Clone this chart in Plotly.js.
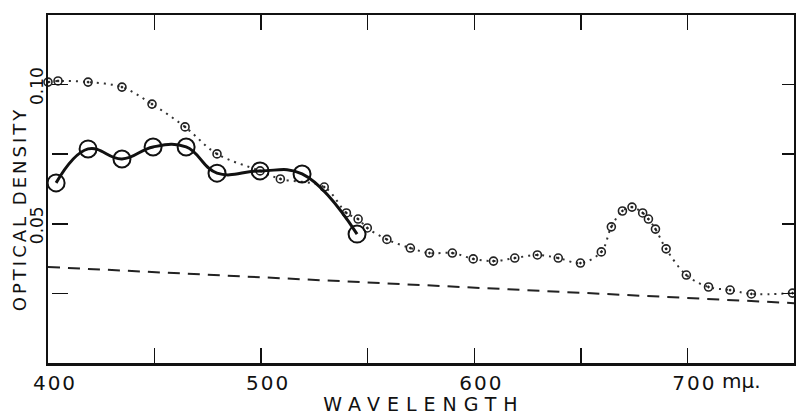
<!DOCTYPE html>
<html>
<head>
<meta charset="utf-8">
<script src="https://cdn.plot.ly/plotly-3.0.1.min.js"></script>
<style>
html,body{margin:0;padding:0;background:#fff;}
#chart{width:796px;height:415px;}
</style>
</head>
<body>
<div id="chart"></div>
<script>
// Dotted series (small circles)
const dotWavelength = [400, 404.7, 418.8, 434.7, 448.8, 464.3, 479.3, 499.5, 509, 529.6, 540, 545.5, 549.8, 559, 570, 579, 589.7, 599.5, 609, 619, 629.6, 639.4, 649.8, 659.6, 664.3, 669.5, 674, 679, 681.7, 685, 690, 699.5, 709.9, 720, 730, 749.3];
const dotDensity = [0.1009, 0.1013, 0.1009, 0.0991, 0.0930, 0.0848, 0.0751, 0.0690, 0.0661, 0.0632, 0.0539, 0.0517, 0.0485, 0.0444, 0.0413, 0.0395, 0.0395, 0.0374, 0.0366, 0.0377, 0.0388, 0.0377, 0.0359, 0.0399, 0.0489, 0.0546, 0.0560, 0.0539, 0.0517, 0.0481, 0.0410, 0.0316, 0.0273, 0.0262, 0.0248, 0.0251];

// Solid series (large circles)
const solidWavelength = [403.8, 418.8, 434.7, 449.3, 464.8, 479.3, 499.5, 519.2, 545];
const solidDensity = [0.0647, 0.0769, 0.0733, 0.0776, 0.0776, 0.0682, 0.0690, 0.0679, 0.0463];

// Dashed baseline
const baseWavelength = [400, 750];
const baseDensity = [0.0345, 0.0215];

// Ticks
const xTickVals = [400, 450, 500, 550, 600, 650, 700, 750];
const xTickText = ['400', '', '500', '', '600', '', '700', ''];
const yTickVals = [0, 0.025, 0.05, 0.075, 0.10];
const yTickText = ['', '', '0.05', '', '0.10'];
const unitLabel = 'mμ.';
const xTitle = 'WAVELENGTH';
const yTitle = 'OPTICAL DENSITY';

const FONT = 'DejaVu Sans, sans-serif';

const traces = [
  {
    x: baseWavelength, y: baseDensity, type: 'scatter', mode: 'lines',
    line: {color: '#222', width: 2, dash: '12px,8px'},
    hoverinfo: 'skip', cliponaxis: false
  },
  {
    x: dotWavelength, y: dotDensity, type: 'scatter', mode: 'lines+markers',
    line: {color: '#333', width: 2, dash: '2px,5px', shape: 'spline', smoothing: 1.0},
    marker: {symbol: 'circle-open-dot', size: 8, color: '#222', line: {width: 1.6, color: '#222'}},
    cliponaxis: false
  },
  {
    x: solidWavelength, y: solidDensity, type: 'scatter', mode: 'lines+markers',
    line: {color: '#111', width: 3, shape: 'spline', smoothing: 1.2},
    marker: {symbol: 'circle-open', size: 17, color: '#111', line: {width: 2, color: '#111'}},
    cliponaxis: false
  }
];

const layout = {
  width: 796, height: 415,
  margin: {l: 48, r: 2, t: 15, b: 52},
  paper_bgcolor: '#fff', plot_bgcolor: '#fff',
  showlegend: false,
  font: {family: FONT, color: '#111'},
  xaxis: {
    range: [400, 750], tickmode: 'array', tickvals: xTickVals, ticktext: xTickText,
    showgrid: false, zeroline: false, showline: true, linecolor: '#111', linewidth: 2.5,
    mirror: 'ticks', ticks: 'inside', ticklen: 15, tickwidth: 1.5, tickcolor: '#111',
    tickfont: {family: FONT, size: 20, color: '#111'},
    ticklabelshift: 7, ticklabelstandoff: 0,
    title: {text: xTitle, font: {family: FONT, size: 19, color: '#111'}, standoff: 4}
  },
  yaxis: {
    range: [0, 0.125], tickmode: 'array', tickvals: yTickVals, ticktext: yTickText,
    showgrid: false, zeroline: false, showline: true, linecolor: '#111', linewidth: 2.5,
    mirror: 'ticks', ticks: 'inside', ticklen: 16, tickwidth: 1.5, tickcolor: '#111',
    tickfont: {family: FONT, size: 17, color: '#111'}, tickangle: -90,
    ticklabelshift: 4, ticklabelstandoff: 0,
    title: {text: yTitle, font: {family: FONT, size: 18, color: '#111'}, standoff: 4}
  },
  annotations: [
    {text: unitLabel, x: 700, xref: 'x', y: 0, yref: 'paper', xanchor: 'left', yanchor: 'top',
     xshift: 33, yshift: -4, showarrow: false, font: {family: FONT, size: 20, color: '#111'}}
  ]
};

Plotly.newPlot('chart', traces, layout, {displayModeBar: false, staticPlot: true}).then(function(gd){
  const xt = gd.querySelector('.g-xtitle text');
  if (xt) xt.style.letterSpacing = '7px';
  const xtg = gd.querySelector('.g-xtitle');
  if (xtg) xtg.setAttribute('transform', 'translate(3,0)');
  const yt = gd.querySelector('.g-ytitle text');
  if (yt) yt.style.letterSpacing = '3px';
  const ytg = gd.querySelector('.g-ytitle');
  if (ytg) ytg.setAttribute('transform', 'translate(12,20)');
  const ytk = gd.querySelector('.yaxislayer-above');
  if (ytk) ytk.setAttribute('transform', 'translate(4,0)');
  gd.querySelectorAll('.xtick text').forEach(function(t){ t.style.letterSpacing = '2px'; });
});
</script>
</body>
</html>
